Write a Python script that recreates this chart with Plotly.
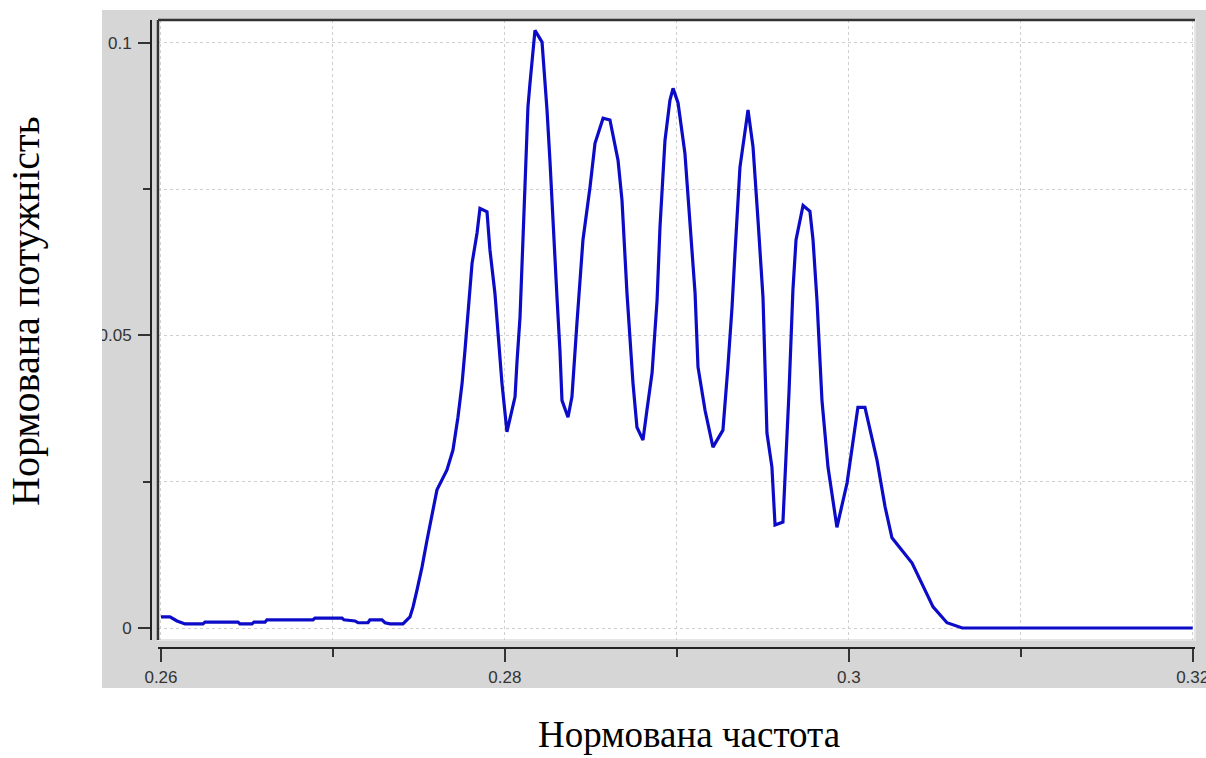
import plotly.graph_objects as go

# ---- data ----
freq = [0.26000, 0.26052, 0.26093, 0.26140, 0.26244, 0.26256, 0.26448, 0.26459, 0.26529, 0.26541,
        0.26605, 0.26616, 0.26884, 0.26896, 0.27053, 0.27064, 0.27128, 0.27146, 0.27204, 0.27215,
        0.27285, 0.27303, 0.27332, 0.27407, 0.27448, 0.27466, 0.27489, 0.27518, 0.27547, 0.27576,
        0.27605, 0.27663, 0.27698, 0.27727, 0.27751, 0.27768, 0.27785, 0.27809, 0.27838, 0.27855,
        0.27896, 0.27913, 0.27942, 0.27960, 0.27983, 0.28012, 0.28059, 0.28070, 0.28088, 0.28105,
        0.28123, 0.28134, 0.28146, 0.28175, 0.28216, 0.28227, 0.28245, 0.28262, 0.28280, 0.28303,
        0.28320, 0.28332, 0.28367, 0.28390, 0.28419, 0.28454, 0.28495, 0.28524, 0.28571, 0.28611,
        0.28658, 0.28681, 0.28710, 0.28728, 0.28745, 0.28768, 0.28803, 0.28826, 0.28856, 0.28885,
        0.28902, 0.28931, 0.28960, 0.28978, 0.29007, 0.29047, 0.29076, 0.29106, 0.29123, 0.29164,
        0.29210, 0.29268, 0.29297, 0.29321, 0.29338, 0.29367, 0.29414, 0.29443, 0.29472, 0.29501,
        0.29524, 0.29553, 0.29571, 0.29617, 0.29652, 0.29675, 0.29693, 0.29734, 0.29774, 0.29792,
        0.29815, 0.29844, 0.29879, 0.29931, 0.29990, 0.30053, 0.30094, 0.30164, 0.30211, 0.30251,
        0.30368, 0.30414, 0.30490, 0.30571, 0.30647, 0.30660, 0.32000]

power = [0.0019, 0.0019, 0.0012, 0.0007, 0.0007, 0.0010, 0.0010, 0.0007, 0.0007, 0.0010,
         0.0010, 0.0014, 0.0014, 0.0017, 0.0017, 0.0014, 0.0012, 0.0009, 0.0009, 0.0014,
         0.0014, 0.0009, 0.0007, 0.0007, 0.0019, 0.0036, 0.0065, 0.0104, 0.0150, 0.0190,
         0.0236, 0.0270, 0.0304, 0.0360, 0.0418, 0.0475, 0.0543, 0.0623, 0.0675, 0.0717,
         0.0711, 0.0646, 0.0572, 0.0497, 0.0418, 0.0335, 0.0395, 0.0453, 0.0531, 0.0663,
         0.0816, 0.0890, 0.0931, 0.1021, 0.1001, 0.0958, 0.0885, 0.0799, 0.0685, 0.0565,
         0.0475, 0.0389, 0.0360, 0.0395, 0.0521, 0.0663, 0.0753, 0.0828, 0.0871, 0.0868,
         0.0799, 0.0731, 0.0572, 0.0487, 0.0418, 0.0343, 0.0321, 0.0372, 0.0436, 0.0560,
         0.0685, 0.0833, 0.0902, 0.0922, 0.0897, 0.0811, 0.0697, 0.0572, 0.0446, 0.0372,
         0.0309, 0.0338, 0.0446, 0.0548, 0.0640, 0.0787, 0.0885, 0.0822, 0.0697, 0.0565,
         0.0333, 0.0275, 0.0176, 0.0181, 0.0401, 0.0577, 0.0663, 0.0722, 0.0712, 0.0663,
         0.0560, 0.0389, 0.0275, 0.0172, 0.0248, 0.0377, 0.0377, 0.0287, 0.0207, 0.0154,
         0.0111, 0.0082, 0.0036, 0.0009, 0.0002, 0.0000, 0.0000]

x_title = "Нормована частота"
y_title = "Нормована потужність"

# ---- layout geometry (pixels) ----
W, H = 1206, 758
ML, MR, MT, MB = 151, 11, 20, 110
PW, PH = W - ML - MR, H - MT - MB


def px(xp):
    return (xp - ML) / PW


def py(yp):
    return (H - MB - yp) / PH


fig = go.Figure()
fig.add_trace(go.Scatter(x=freq, y=power, mode="lines",
                         line=dict(color="#0c0cc8", width=3.2),
                         showlegend=False, hoverinfo="skip"))

tickfont = dict(family="Liberation Sans, Arial, sans-serif", size=17, color="#333333")
grid_col = "#cfcfcf"

fig.update_layout(
    width=W, height=H,
    margin=dict(l=ML, r=MR, t=MT, b=MB, pad=0, autoexpand=False),
    paper_bgcolor="white",
    plot_bgcolor="rgba(0,0,0,0)",
    showlegend=False,
    xaxis=dict(
        domain=[px(158), 1], anchor="free", position=0, automargin=False,
        range=[0.259826, 0.320134],
        tick0=0.26, dtick=0.02, ticks="outside", ticklen=13, tickwidth=2, tickcolor="#333333",
        showline=True, linecolor="#222222", linewidth=2,
        showgrid=True, gridcolor=grid_col, griddash="dot", gridwidth=1,
        zeroline=False, tickfont=tickfont, ticklabelstandoff=1,
        ticklabeloverflow="allow",
        minor=dict(dtick=0.01, ticks="outside", ticklen=8, tickwidth=2, tickcolor="#333333",
                   showgrid=True, gridcolor=grid_col, griddash="dot", gridwidth=1),
    ),
    yaxis=dict(
        domain=[py(640), 1], anchor="free", position=0, automargin=False,
        range=[-0.00205, 0.10388],
        tick0=0, dtick=0.05, ticks="outside", ticklen=12, tickwidth=2, tickcolor="#333333",
        showline=True, linecolor="#222222", linewidth=2,
        showgrid=True, gridcolor=grid_col, griddash="dot", gridwidth=1,
        zeroline=False, tickfont=tickfont, ticklabelstandoff=3,
        ticklabeloverflow="allow",
        minor=dict(dtick=0.025, ticks="outside", ticklen=7, tickwidth=2, tickcolor="#333333",
                   showgrid=True, gridcolor=grid_col, griddash="dot", gridwidth=1),
    ),
    shapes=[
        # grey panel
        dict(type="rect", xref="paper", yref="paper", layer="below",
             x0=px(102), x1=px(1206), y0=py(688), y1=py(10),
             fillcolor="#d6d6d6", line=dict(width=0)),
        # white plotting area
        dict(type="rect", xref="paper", yref="paper", layer="below",
             x0=px(158), x1=px(1195), y0=py(640), y1=py(20),
             fillcolor="white", line=dict(color="#e6e6e6", width=2)),
        # dark top border
        dict(type="line", xref="paper", yref="paper", layer="above",
             x0=px(158), x1=px(1195), y0=py(20), y1=py(20),
             line=dict(color="#333333", width=2.5)),
        # dark left border
        dict(type="line", xref="paper", yref="paper", layer="above",
             x0=px(158), x1=px(158), y0=py(640), y1=py(20),
             line=dict(color="#333333", width=2.5)),
        # white page strip left of the grey panel (crops tick labels like the original)
        dict(type="rect", xref="paper", yref="paper", layer="above",
             x0=px(0), x1=px(102), y0=py(688), y1=py(10),
             fillcolor="white", line=dict(width=0)),
    ],
    annotations=[
        dict(text=x_title, xref="paper", yref="paper", x=px(689), y=py(734),
             xanchor="center", yanchor="middle", showarrow=False,
             font=dict(family="Liberation Serif, Times New Roman, serif", size=37, color="black")),
        dict(text=y_title, xref="paper", yref="paper", x=px(26), y=py(311),
             xanchor="center", yanchor="middle", showarrow=False, textangle=-90,
             font=dict(family="Liberation Serif, Times New Roman, serif", size=40, color="black")),
    ],
)

fig.write_html("out.html")
